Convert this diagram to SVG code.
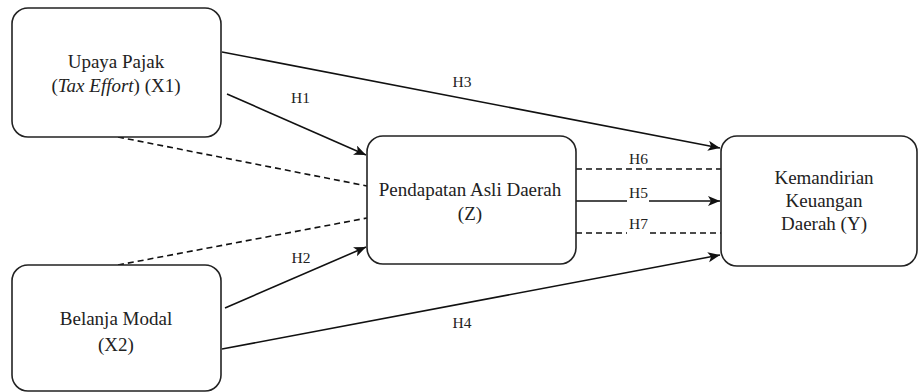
<svg xmlns="http://www.w3.org/2000/svg" width="918" height="392" viewBox="0 0 918 392">
<style>
.box{fill:#fff;stroke:#222;stroke-width:1.6}
.t{font-family:"Liberation Serif","Times New Roman",serif;font-size:19px;fill:#222;text-anchor:middle}
.l{font-family:"Liberation Serif","Times New Roman",serif;font-size:15.5px;fill:#222;text-anchor:middle}
.c{fill:none;stroke:#111;stroke-width:1.6}
.d{stroke-dasharray:6 4}
</style>
<defs>
<marker id="arr" markerUnits="userSpaceOnUse" markerWidth="14" markerHeight="12" refX="12" refY="5" orient="auto">
<path d="M0,0 L12,5 L0,10 L3,5 z" fill="#111"/>
</marker>
</defs>
<g id="connectors">
<line class="c" x1="222" y1="52" x2="720" y2="148" marker-end="url(#arr)"/>
<line class="c" x1="227" y1="94" x2="366" y2="155" marker-end="url(#arr)"/>
<line class="c d" x1="118" y1="137" x2="367" y2="186"/>
<line class="c d" x1="118" y1="265" x2="367" y2="218"/>
<line class="c" x1="225" y1="308" x2="366" y2="247" marker-end="url(#arr)"/>
<line class="c" x1="222" y1="349" x2="720" y2="255" marker-end="url(#arr)"/>
<line class="c d" x1="576" y1="169" x2="721" y2="169"/>
<line class="c" x1="576" y1="201" x2="627" y2="201"/>
<line class="c" x1="649" y1="201" x2="720" y2="201" marker-end="url(#arr)"/>
<line class="c d" x1="576" y1="233" x2="627" y2="233"/>
<line class="c d" x1="650" y1="233" x2="721" y2="233"/>
<text class="l" x="300.5" y="103">H1</text>
<text class="l" x="462" y="87">H3</text>
<text class="l" x="301" y="263">H2</text>
<text class="l" x="462" y="328">H4</text>
<text class="l" x="638.5" y="164">H6</text>
<text class="l" x="638.5" y="198">H5</text>
<text class="l" x="638.5" y="229">H7</text>
</g>
<g id="X1">
<rect class="box" x="12" y="8" width="209" height="129" rx="16"/>
<text class="t" x="116" y="68">Upaya Pajak</text>
<text class="t" x="116" y="92">(<tspan font-style="italic">Tax Effort</tspan>) (X1)</text>
</g>
<g id="X2">
<rect class="box" x="12" y="265" width="209" height="126" rx="16"/>
<text class="t" x="116" y="325">Belanja Modal</text>
<text class="t" x="116" y="351">(X2)</text>
</g>
<g id="Z">
<rect class="box" x="367" y="136" width="209" height="128" rx="16"/>
<text class="t" x="470" y="196">Pendapatan Asli Daerah</text>
<text class="t" x="470" y="220">(Z)</text>
</g>
<g id="Y">
<rect class="box" x="721" y="136" width="196" height="130" rx="16"/>
<text class="t" x="824" y="184">Kemandirian</text>
<text class="t" x="824" y="207">Keuangan</text>
<text class="t" x="824" y="230">Daerah (Y)</text>
</g>
</svg>
